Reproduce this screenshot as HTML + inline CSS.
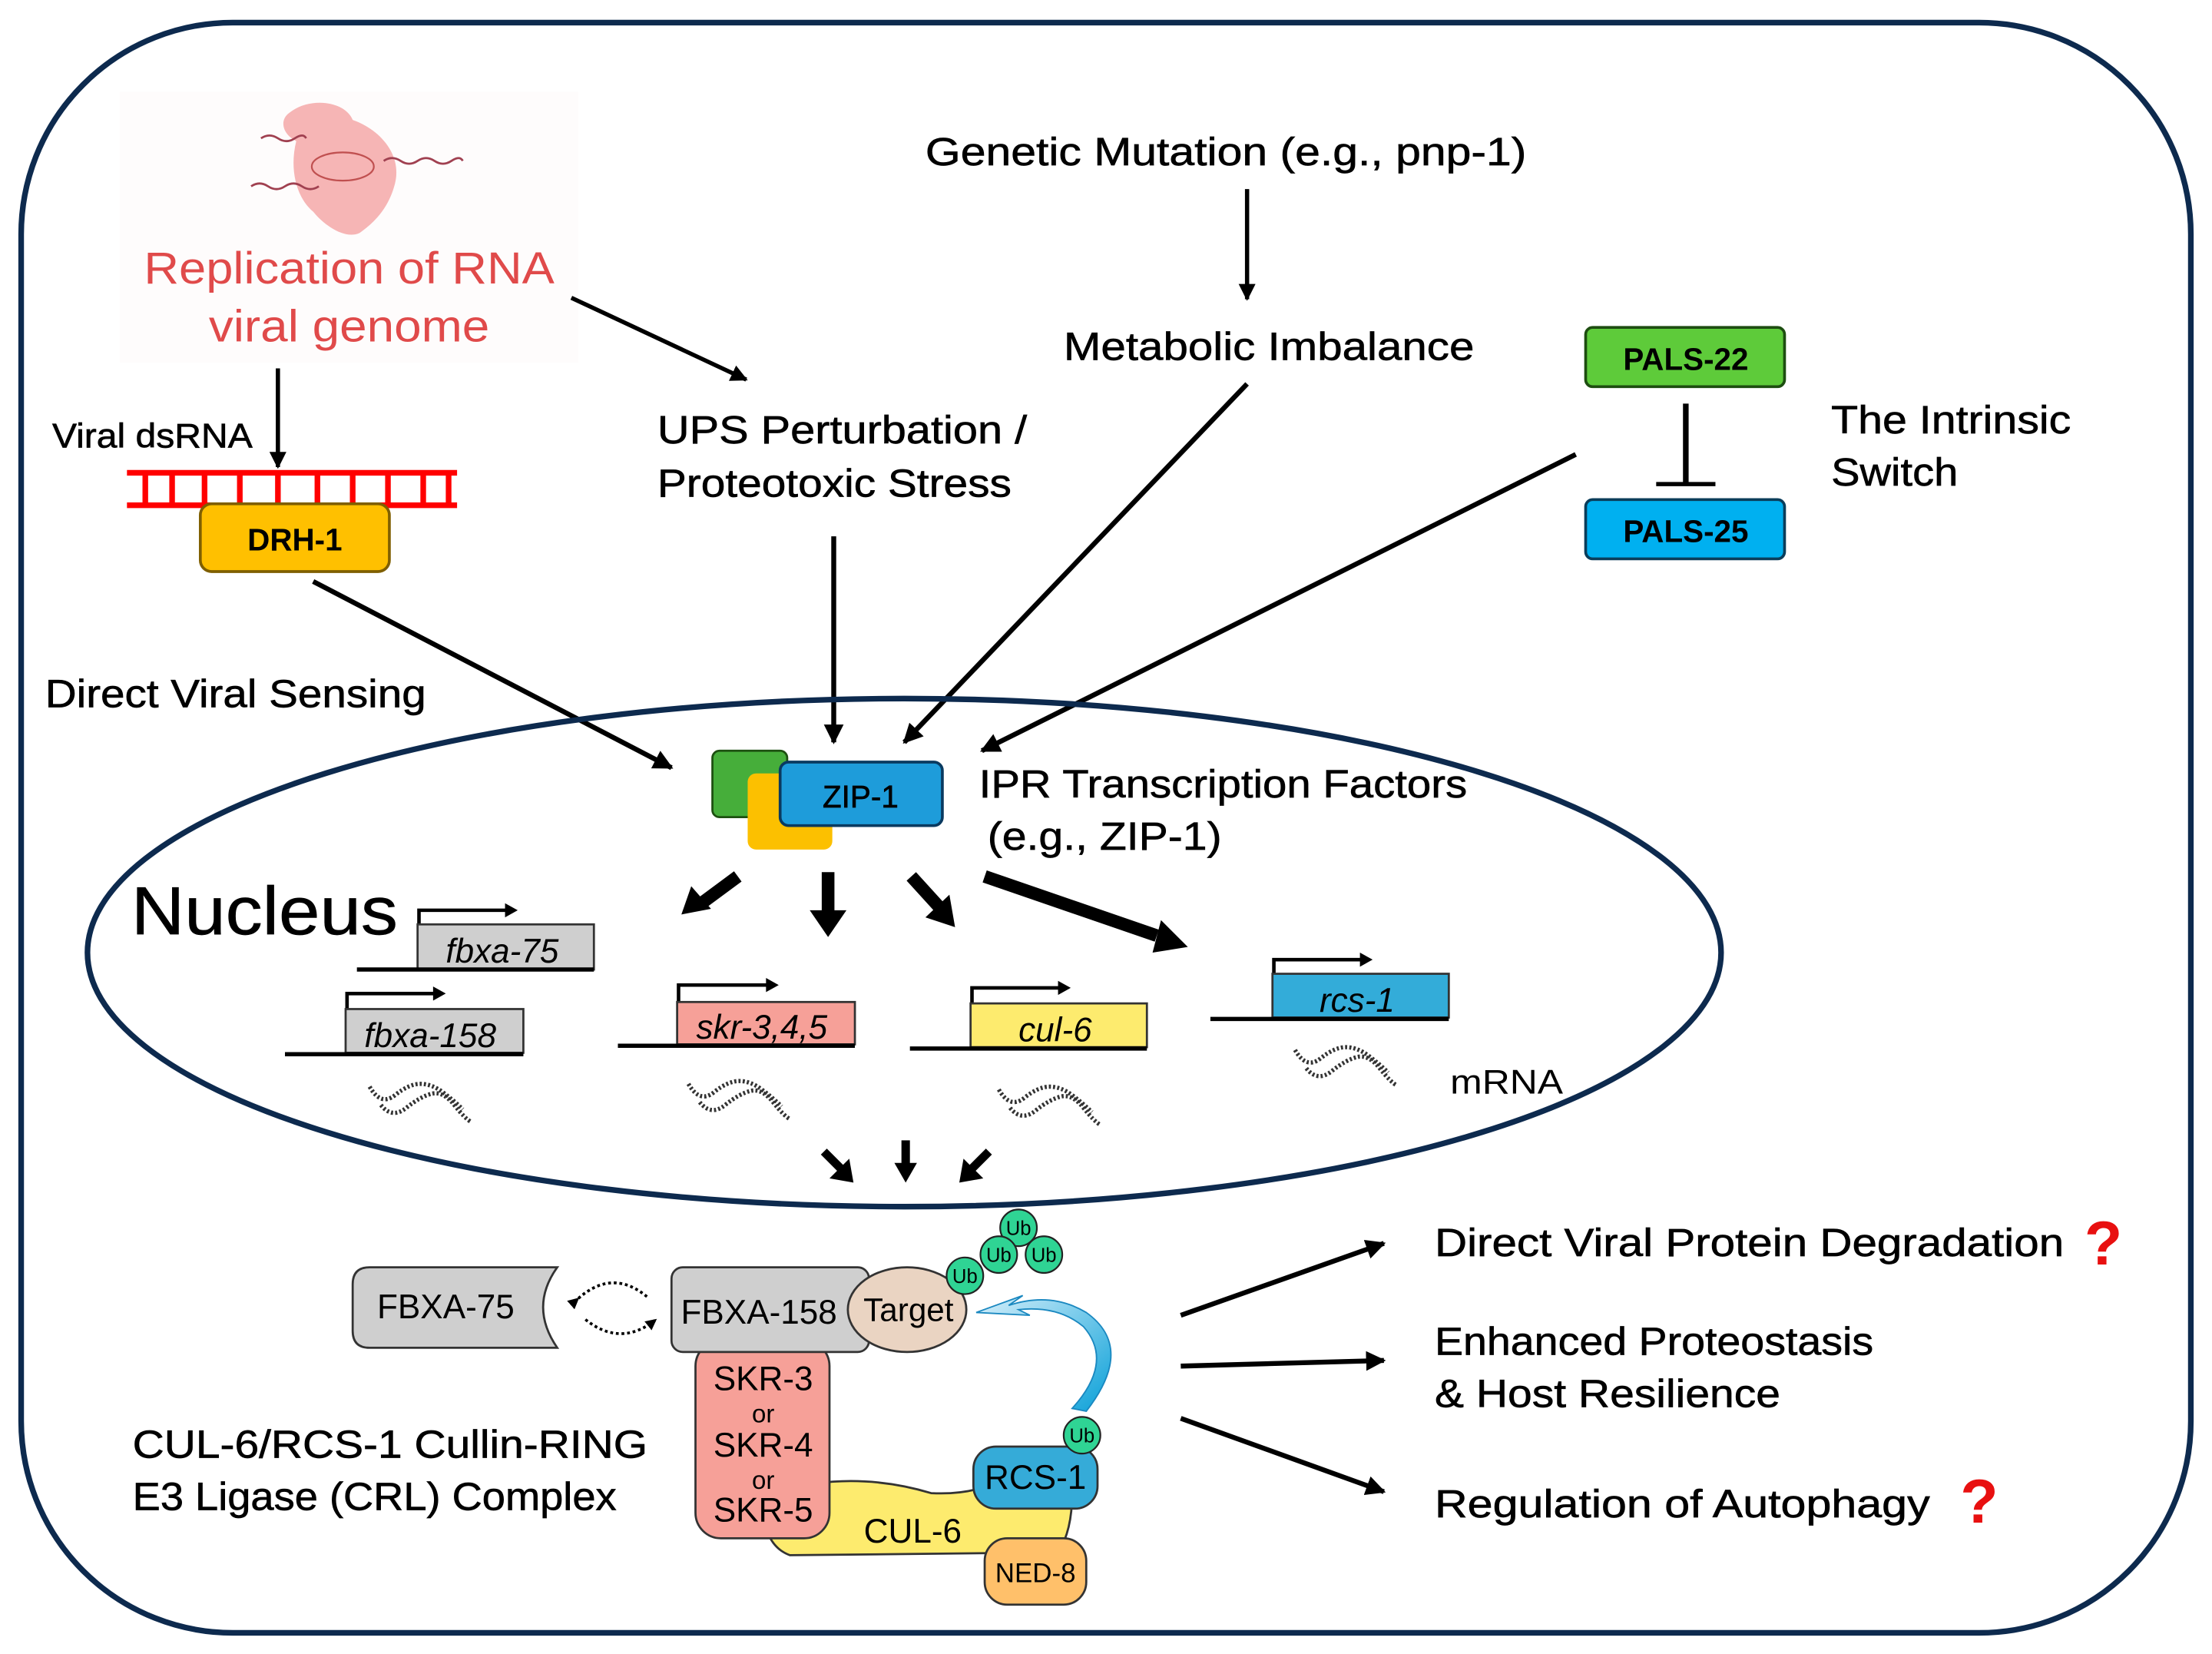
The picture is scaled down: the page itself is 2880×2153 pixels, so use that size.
<!DOCTYPE html>
<html><head><meta charset="utf-8"><style>
html,body{margin:0;padding:0;background:#fff}
svg{display:block}
text{font-family:"Liberation Sans","Noto Sans CJK SC",sans-serif;}
.t{stroke:#000;stroke-width:0.35}
</style></head><body>
<svg width="2880" height="2153" viewBox="0 0 1568 1172" preserveAspectRatio="none" xmlns="http://www.w3.org/2000/svg">
<defs>
<marker id="ahs" viewBox="0 0 10 10" refX="9" refY="5" markerWidth="4" markerHeight="4" orient="auto"><path d="M0,0 L10,5 L0,10 z" fill="#000"/></marker>
<linearGradient id="bl" x1="0" y1="0" x2="1" y2="1"><stop offset="0" stop-color="#d8f0fb"/><stop offset="1" stop-color="#0aa0d8"/></linearGradient>
</defs>
<rect x="15" y="16" width="1538" height="1141" rx="150" ry="150" fill="#fff" stroke="#0d2a4e" stroke-width="4"/>
<rect x="85" y="65" width="325" height="192" fill="#fefcfc"/>
<path d="M205,80 C220,68 245,72 250,85 C270,92 285,110 280,130 C275,150 262,160 255,165 C245,170 230,160 222,150 C210,140 205,120 210,100 C200,95 198,85 205,80z" fill="#f4a8a8" opacity="0.85"/>
<ellipse cx="243" cy="118" rx="22" ry="10" fill="none" stroke="#c05050" stroke-width="1.2"/>
<path d="M178,132 q6,-4 12,0 t12,0 t12,0 t12,0 M272,114 q6,-4 12,0 t12,0 t12,0 t12,0 t8,0 M185,98 q6,-4 12,0 t12,0 t8,0" fill="none" stroke="#a04050" stroke-width="1.5"/>
<text x="102" y="201" font-size="32" fill="#e04a4a" textLength="291" lengthAdjust="spacingAndGlyphs">Replication of RNA</text>
<text x="148" y="242" font-size="32" fill="#e04a4a" textLength="199" lengthAdjust="spacingAndGlyphs">viral genome</text>
<line x1="197" y1="261" x2="197" y2="331" stroke="#000" stroke-width="3" marker-end="url(#ahs)"/>
<text x="37" y="317" font-size="24" class="t" textLength="142" lengthAdjust="spacingAndGlyphs">Viral dsRNA</text>
<g stroke="#f00" stroke-width="4">
<line x1="90" y1="335" x2="324" y2="335"/><line x1="90" y1="358" x2="324" y2="358"/>
<line x1="103" y1="335" x2="103" y2="358"/><line x1="122" y1="335" x2="122" y2="358"/><line x1="145" y1="335" x2="145" y2="358"/><line x1="170" y1="335" x2="170" y2="358"/><line x1="197" y1="335" x2="197" y2="358"/><line x1="225" y1="335" x2="225" y2="358"/><line x1="250" y1="335" x2="250" y2="358"/><line x1="275" y1="335" x2="275" y2="358"/><line x1="300" y1="335" x2="300" y2="358"/><line x1="318" y1="335" x2="318" y2="358"/>
</g>
<rect x="142" y="357" width="134" height="48" rx="8" fill="#ffc000" stroke="#7f5f00" stroke-width="2"/>
<text x="209" y="390" font-size="22" text-anchor="middle" font-weight="bold">DRH-1</text>
<text x="32" y="501" font-size="28" class="t" textLength="270" lengthAdjust="spacingAndGlyphs">Direct Viral Sensing</text>
<text x="656" y="117" font-size="28" class="t" textLength="426" lengthAdjust="spacingAndGlyphs">Genetic Mutation (e.g., pnp-1)</text>
<line x1="884" y1="134" x2="884" y2="212" stroke="#000" stroke-width="3" marker-end="url(#ahs)"/>
<text x="754" y="255" font-size="28" class="t" textLength="291" lengthAdjust="spacingAndGlyphs">Metabolic Imbalance</text>
<line x1="405" y1="211" x2="529" y2="269" stroke="#000" stroke-width="3" marker-end="url(#ahs)"/>
<text x="466" y="314" font-size="28" class="t" textLength="262" lengthAdjust="spacingAndGlyphs">UPS Perturbation /</text>
<text x="466" y="352" font-size="28" class="t" textLength="251" lengthAdjust="spacingAndGlyphs">Proteotoxic Stress</text>
<rect x="1124" y="232" width="141" height="42" rx="5" fill="#5ecb3a" stroke="#1d4d10" stroke-width="2"/>
<text x="1195" y="262" font-size="22" text-anchor="middle" font-weight="bold">PALS-22</text>
<line x1="1195" y1="286" x2="1195" y2="343" stroke="#000" stroke-width="4"/>
<line x1="1174" y1="343" x2="1216" y2="343" stroke="#000" stroke-width="3"/>
<rect x="1124" y="354" width="141" height="42" rx="5" fill="#00b0f0" stroke="#0a3d5a" stroke-width="2"/>
<text x="1195" y="384" font-size="22" text-anchor="middle" font-weight="bold">PALS-25</text>
<text x="1298" y="307" font-size="28" class="t" textLength="170" lengthAdjust="spacingAndGlyphs">The Intrinsic</text>
<text x="1298" y="344" font-size="28" class="t" textLength="90" lengthAdjust="spacingAndGlyphs">Switch</text>
<g stroke="#000" stroke-width="3.5" fill="none">
<line x1="222" y1="412" x2="476" y2="544" marker-end="url(#ahs)"/>
<line x1="591" y1="380" x2="591" y2="526" marker-end="url(#ahs)"/>
<line x1="884" y1="272" x2="641" y2="526" marker-end="url(#ahs)"/>
<line x1="1117" y1="322" x2="696" y2="532" marker-end="url(#ahs)"/>
</g>
<ellipse cx="641" cy="675" rx="579" ry="180" fill="none" stroke="#0d2a4e" stroke-width="4"/>
<text x="93" y="662" font-size="48" class="t" textLength="189" lengthAdjust="spacingAndGlyphs">Nucleus</text>
<rect x="505" y="532" width="53" height="47" rx="5" fill="#46ae3a" stroke="#1d5010" stroke-width="1.5"/>
<rect x="530" y="548" width="60" height="54" rx="6" fill="#fcc000"/>
<rect x="553" y="540" width="115" height="45" rx="6" fill="#1e9cda" stroke="#0a3a60" stroke-width="2"/>
<text x="610" y="572" font-size="22" text-anchor="middle" class="t">ZIP-1</text>
<text x="694" y="565" font-size="28" class="t" textLength="346" lengthAdjust="spacingAndGlyphs">IPR Transcription Factors</text>
<text x="700" y="602" font-size="28" class="t" textLength="166" lengthAdjust="spacingAndGlyphs">(e.g., ZIP-1)</text>
<g stroke="#000" stroke-width="9" fill="none">
<line x1="523" y1="621" x2="496" y2="641"/><line x1="587" y1="618" x2="587" y2="648"/><line x1="646" y1="621" x2="666" y2="643"/><line x1="698" y1="621" x2="820" y2="663"/>
</g>
<g fill="#000">
<polygon points="483,648 490,628 504,644"/><polygon points="574,645 600,645 587,664"/><polygon points="677,657 656,650 673,634"/><polygon points="842,671 817,675 823,652"/>
</g>
<g stroke="#000" stroke-width="2.5" fill="none">
<polyline points="297,655 297,645 360,645"/><polyline points="246,715 246,704 309,704"/><polyline points="481,710 481,698 545,698"/><polyline points="689,711 689,700 752,700"/><polyline points="903,690 903,680 966,680"/>
</g>
<g fill="#000"><polygon points="358,640 367,645 358,650"/><polygon points="307,699 316,704 307,709"/><polygon points="543,693 552,698 543,703"/><polygon points="750,695 759,700 750,705"/><polygon points="964,675 973,680 964,685"/></g>
<rect x="296" y="655" width="125" height="32" fill="#cfcfcf" stroke="#333" stroke-width="1.5"/>
<rect x="245" y="715" width="126" height="31" fill="#cfcfcf" stroke="#333" stroke-width="1.5"/>
<rect x="480" y="710" width="126" height="30" fill="#f6a098" stroke="#333" stroke-width="1.5"/>
<rect x="688" y="711" width="125" height="31" fill="#fdeb6e" stroke="#333" stroke-width="1.5"/>
<rect x="902" y="690" width="125" height="31" fill="#33acd9" stroke="#333" stroke-width="1.5"/>
<g stroke="#000" stroke-width="3">
<line x1="253" y1="687" x2="421" y2="687"/><line x1="202" y1="747" x2="371" y2="747"/><line x1="438" y1="741" x2="606" y2="741"/><line x1="645" y1="743" x2="813" y2="743"/><line x1="858" y1="722" x2="1027" y2="722"/>
</g>
<g font-size="24" font-style="italic" text-anchor="middle">
<text x="356" y="682">fbxa-75</text><text x="305" y="742">fbxa-158</text><text x="540" y="736">skr-3,4,5</text><text x="748" y="738">cul-6</text><text x="962" y="717">rcs-1</text>
</g>
<g fill="none" stroke="#333" stroke-width="3" stroke-dasharray="1.5 1.5">
<path d="M262,770 q8,14 18,6 t18,-8 t16,6 t14,12 M270,783 q8,10 18,2 t18,-10 t16,8 t12,12"/>
<path d="M488,768 q8,14 18,6 t18,-8 t16,6 t14,12 M496,781 q8,10 18,2 t18,-10 t16,8 t12,12"/>
<path d="M708,772 q8,14 18,6 t18,-8 t16,6 t14,12 M716,785 q8,10 18,2 t18,-10 t16,8 t12,12"/>
<path d="M918,744 q8,14 18,6 t18,-8 t16,6 t14,12 M926,757 q8,10 18,2 t18,-10 t16,8 t12,12"/>
</g>
<text x="1028" y="775" font-size="24" textLength="80" lengthAdjust="spacingAndGlyphs">mRNA</text>
<g stroke="#000" stroke-width="6"><line x1="584" y1="816" x2="598" y2="830"/><line x1="642" y1="808" x2="642" y2="826"/><line x1="701" y1="816" x2="687" y2="830"/></g>
<g fill="#000"><polygon points="605,838 588,835 602,821"/><polygon points="642,838 634,824 650,824"/><polygon points="680,838 683,821 697,835"/></g>
<path d="M262,898 L395,898 Q375,926 395,955 L262,955 Q250,955 250,943 L250,910 Q250,898 262,898z" fill="#cfcfcf" stroke="#333" stroke-width="1.5"/>
<text x="316" y="934" font-size="24" text-anchor="middle">FBXA-75</text>
<path d="M410,920 q25,-22 50,0" fill="none" stroke="#000" stroke-width="2" stroke-dasharray="2 2" marker-start="url(#ahs)"/>
<path d="M415,935 q25,20 50,0" fill="none" stroke="#000" stroke-width="2" stroke-dasharray="2 2" marker-end="url(#ahs)"/>
<path d="M540,1060 Q600,1040 660,1058 Q700,1060 720,1040 L760,1058 Q760,1085 750,1100 L560,1102 Q540,1095 540,1060z" fill="#fdeb6e" stroke="#333" stroke-width="1.5"/>
<text x="647" y="1093" font-size="24" text-anchor="middle">CUL-6</text>
<rect x="493" y="950" width="95" height="140" rx="18" fill="#f6a098" stroke="#333" stroke-width="1.5"/>
<text x="541" y="985" font-size="24" text-anchor="middle">SKR-3</text>
<text x="541" y="1008" font-size="18" text-anchor="middle">or</text>
<text x="541" y="1032" font-size="24" text-anchor="middle">SKR-4</text>
<text x="541" y="1055" font-size="18" text-anchor="middle">or</text>
<text x="541" y="1078" font-size="24" text-anchor="middle">SKR-5</text>
<rect x="476" y="898" width="140" height="60" rx="8" fill="#cfcfcf" stroke="#333" stroke-width="1.5"/>
<text x="538" y="938" font-size="24" text-anchor="middle">FBXA-158</text>
<ellipse cx="643" cy="928" rx="42" ry="30" fill="#ead4c2" stroke="#333" stroke-width="1.5"/>
<text x="644" y="936" font-size="23" text-anchor="middle">Target</text>
<rect x="690" y="1025" width="88" height="44" rx="16" fill="#35abd8" stroke="#333" stroke-width="1.5"/>
<text x="734" y="1055" font-size="24" text-anchor="middle">RCS-1</text>
<rect x="698" y="1090" width="72" height="47" rx="16" fill="#ffc06a" stroke="#333" stroke-width="1.5"/>
<text x="734" y="1121" font-size="19" text-anchor="middle">NED-8</text>
<path d="M770,1000 Q805,955 770,930 Q745,915 715,925 L725,918 L692,930 L730,932 L722,928 Q750,925 768,940 Q790,965 760,998z" fill="url(#bl)" stroke="#1a88c0" stroke-width="1"/>
<g fill="#2fd494" stroke="#222" stroke-width="1.2">
<circle cx="722" cy="870" r="13"/><circle cx="708" cy="889" r="13"/><circle cx="740" cy="889" r="13"/><circle cx="684" cy="904" r="13"/><circle cx="767" cy="1017" r="13"/>
</g>
<g font-size="14" text-anchor="middle"><text x="722" y="875">Ub</text><text x="708" y="894">Ub</text><text x="740" y="894">Ub</text><text x="684" y="909">Ub</text><text x="767" y="1022">Ub</text></g>
<text x="94" y="1033" font-size="28" class="t" textLength="365" lengthAdjust="spacingAndGlyphs">CUL-6/RCS-1 Cullin-RING</text>
<text x="94" y="1070" font-size="28" class="t" textLength="343" lengthAdjust="spacingAndGlyphs">E3 Ligase (CRL) Complex</text>
<g stroke="#000" stroke-width="3.5"><line x1="837" y1="932" x2="981" y2="881" marker-end="url(#ahs)"/><line x1="837" y1="968" x2="981" y2="964" marker-end="url(#ahs)"/><line x1="837" y1="1005" x2="981" y2="1057" marker-end="url(#ahs)"/></g>
<text x="1017" y="890" font-size="28" class="t" textLength="446" lengthAdjust="spacingAndGlyphs">Direct Viral Protein Degradation</text>
<text x="1017" y="960" font-size="28" class="t" textLength="311" lengthAdjust="spacingAndGlyphs">Enhanced Proteostasis</text>
<text x="1017" y="997" font-size="28" class="t" textLength="245" lengthAdjust="spacingAndGlyphs">&amp; Host Resilience</text>
<text x="1017" y="1075" font-size="28" class="t" textLength="351" lengthAdjust="spacingAndGlyphs">Regulation of Autophagy</text>
<text x="1491" y="896" font-size="44" font-weight="bold" fill="#e81010" text-anchor="middle">?</text>
<text x="1403" y="1079" font-size="44" font-weight="bold" fill="#e81010" text-anchor="middle">?</text>
</svg>
</body></html>
